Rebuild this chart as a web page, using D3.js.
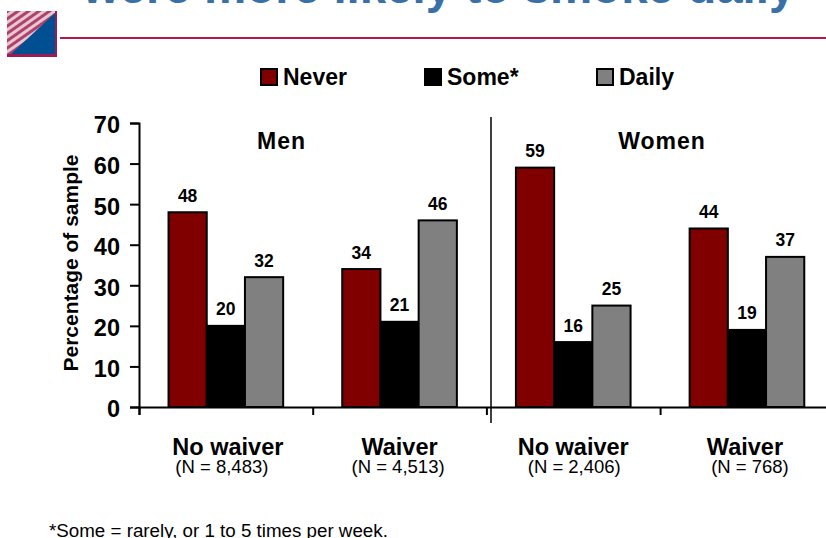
<!DOCTYPE html>
<html>
<head>
    <title>Waiver smoking chart</title>
    <script src="https://d3js.org/d3.v7.min.js"></script>
    <style>
        body { margin:0; background:#fff; }
        text { font-family:"Liberation Sans", Arial, sans-serif; fill:#000; }
    </style>
</head>
<body>
<div id="chart"></div>
<script>
    var groups = ["No waiver", "Waiver", "No waiver ", "Waiver "];
    var sampleSizes = ["(N = 8,483)", "(N = 4,513)", "(N = 2,406)", "(N = 768)"];
    var series = ["Never", "Some*", "Daily"];
    var never = [48, 34, 59, 44];
    var some = [20, 21, 16, 19];
    var daily = [32, 46, 25, 37];
    var yTicks = [0, 10, 20, 30, 40, 50, 60, 70];
    var panels = ["Men", "Women"];

    var width = 826, height = 538;
    var colors = ["#800000", "#000000", "#808080"];

    var svg = d3.select("#chart").append("svg")
        .attr("width", width)
        .attr("height", height)
        .style("display", "block");

    // title is cut off by the top of the slide
    svg.append("text")
        .attr("x", 439).attr("y", 3)
        .attr("text-anchor", "middle")
        .style("font-size", "47.5px")
        .style("font-weight", "bold")
        .style("fill", "#3a70a8")
        .text("were more likely to smoke daily");

    // logo square
    var defs = svg.append("defs");
    var hatch = defs.append("pattern")
        .attr("id", "hatch")
        .attr("width", 6).attr("height", 6)
        .attr("patternUnits", "userSpaceOnUse")
        .attr("patternTransform", "rotate(-35)");
    hatch.append("rect").attr("width", 6).attr("height", 6).attr("fill", "#e6c8d2");
    hatch.append("rect").attr("width", 6).attr("height", 3).attr("fill", "#b0406c");

    svg.append("rect").attr("x", 7).attr("y", 11).attr("width", 50).attr("height", 46).attr("fill", "url(#hatch)");
    svg.append("path").attr("d", "M55,13V54H11Z").attr("fill", "#004f92");
    svg.append("path").attr("d", "M55,11H57V57H7V54H55Z").attr("fill", "#9a1c50");

    // rule under the title
    svg.append("rect").attr("x", 60).attr("y", 37).attr("width", 766).attr("height", 2).attr("fill", "#b4164e");

    // legend
    var legendX = [261, 425, 597];
    var legend = svg.selectAll(".legend")
        .data(series)
        .enter().append("g")
        .attr("class", "legend")
        .attr("transform", function(d, i) { return "translate(" + legendX[i] + ",69)"; });
    legend.append("rect")
        .attr("width", 16).attr("height", 16)
        .attr("fill", function(d, i) { return colors[i]; })
        .attr("stroke", "#000").attr("stroke-width", 2);
    legend.append("text")
        .attr("x", 22).attr("y", 16)
        .style("font-size", "23px")
        .style("font-weight", "bold")
        .text(function(d) { return d; });

    // scales
    var x0 = d3.scaleBand().domain(groups).range([139, 833.8]).paddingInner(0.34).paddingOuter(0.17);
    var x1 = d3.scaleBand().domain(series).range([0, x0.bandwidth()]);
    var y = d3.scaleLinear().domain([0, 70]).range([407, 123]);

    var values = [never, some, daily];

    // bars
    var layer = svg.selectAll(".series")
        .data(series)
        .enter().append("g")
        .attr("class", "series");

    layer.selectAll("rect")
        .data(function(d, i) {
            return groups.map(function(g, j) { return { s: d, g: g, v: values[i][j], c: colors[i] }; });
        })
        .enter().append("rect")
        .attr("x", function(d) { return x0(d.g) + x1(d.s); })
        .attr("y", function(d) { return y(d.v); })
        .attr("width", x1.bandwidth())
        .attr("height", function(d) { return y(0) - y(d.v); })
        .attr("fill", function(d) { return d.c; })
        .attr("stroke", "#000")
        .attr("stroke-width", 2);

    layer.selectAll("text")
        .data(function(d, i) {
            return groups.map(function(g, j) { return { s: d, g: g, v: values[i][j] }; });
        })
        .enter().append("text")
        .attr("x", function(d) { return x0(d.g) + x1(d.s) + x1.bandwidth() / 2; })
        .attr("y", function(d) { return y(d.v) - 10.5; })
        .attr("text-anchor", "middle")
        .style("font-size", "17.5px")
        .style("font-weight", "bold")
        .text(function(d) { return d.v; });

    // y axis
    var yAxis = d3.axisLeft(y).tickValues(yTicks).tickSize(9).tickPadding(10);
    var gy = svg.append("g").attr("transform", "translate(139,0)").call(yAxis);
    gy.select(".domain").attr("stroke-width", 2);
    gy.selectAll(".tick line").attr("stroke-width", 2);
    gy.selectAll(".tick text")
        .attr("dy", "0.42em")
        .style("font-size", "23.5px")
        .style("font-weight", "bold")
        .style("font-family", "'Liberation Sans', Arial, sans-serif");

    svg.append("text")
        .attr("transform", "translate(78,263) rotate(-90)")
        .attr("text-anchor", "middle")
        .style("font-size", "21px")
        .style("font-weight", "bold")
        .text("Percentage of sample");

    // x axis line with ticks between groups
    var xTickScale = d3.scaleLinear().domain([0, 4]).range([139, 833.8]);
    var gx = svg.append("g").attr("transform", "translate(0,407)")
        .call(d3.axisBottom(xTickScale).tickValues([0, 1, 2, 3, 4]).tickSize(8).tickFormat(""));
    gx.select(".domain").attr("stroke-width", 2);
    gx.selectAll(".tick line").attr("stroke-width", 2);

    // divider between the men and women panels
    svg.append("line")
        .attr("x1", 491).attr("x2", 491)
        .attr("y1", 117).attr("y2", 423)
        .attr("stroke", "#000").attr("stroke-width", 1.5);

    // panel names
    var panelX = [281.5, 662];
    svg.selectAll(".panel")
        .data(panels)
        .enter().append("text")
        .attr("class", "panel")
        .attr("x", function(d, i) { return panelX[i]; })
        .attr("y", 149)
        .attr("text-anchor", "middle")
        .style("font-size", "23px")
        .style("font-weight", "bold")
        .style("letter-spacing", "1px")
        .text(function(d) { return d; });

    // group labels
    var groupShift = [2, 0, 0, -2];
    svg.selectAll(".group")
        .data(groups)
        .enter().append("text")
        .attr("class", "group")
        .attr("x", function(d, i) { return x0(d) + x0.bandwidth() / 2 + groupShift[i]; })
        .attr("y", 455)
        .attr("text-anchor", "middle")
        .style("font-size", "23.5px")
        .style("font-weight", "bold")
        .text(function(d) { return d.trim(); });

    var sizeShift = [-4, -1.5, 1, 3];
    svg.selectAll(".size")
        .data(groups)
        .enter().append("text")
        .attr("class", "size")
        .attr("x", function(d, i) { return x0(d) + x0.bandwidth() / 2 + sizeShift[i]; })
        .attr("y", 473)
        .attr("text-anchor", "middle")
        .style("font-size", "18.5px")
        .text(function(d, i) { return sampleSizes[i]; });

    // footnote
    svg.append("text")
        .attr("x", 49).attr("y", 537)
        .style("font-size", "18.75px")
        .text("*Some = rarely, or 1 to 5 times per week.");
</script>
</body>
</html>
